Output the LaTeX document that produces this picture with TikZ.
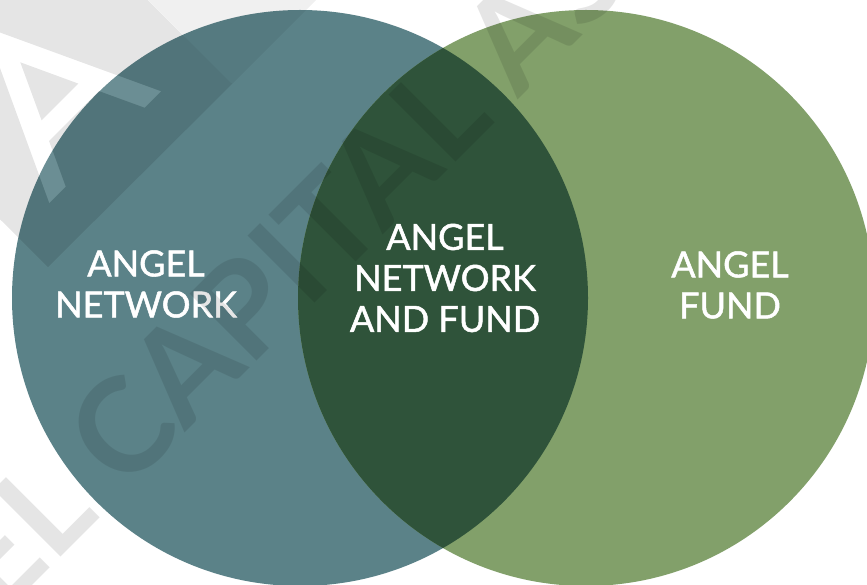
\documentclass[tikz,border=0pt]{standalone}
\usepackage{fontspec}
\setmainfont{Lato}
\newfontfamily\labelfont{Lato}[FakeBold=1.4]
\definecolor{netteal}{HTML}{5B8288}
\definecolor{fundgreen}{HTML}{82A06A}
\definecolor{bothgreen}{HTML}{2F533A}
\begin{document}
\begin{tikzpicture}[x=1pt,y=-1pt,
  lbl/.style={text=white, align=center, inner sep=0pt,
    font=\labelfont\fontsize{36}{41}\selectfont},
  shade/.style={fill=black, fill opacity=0.1},
  glint/.style={fill=white, fill opacity=0.1},
  wmtext/.style={text=black, text opacity=0.1, inner sep=0pt,
    font=\fontsize{131}{131}\selectfont\bfseries}]
\useasboundingbox (0,0) rectangle (867,585);
\clip (0,0) rectangle (867,585);
\fill[white] (0,0) rectangle (867,585);

% the two sets and their overlap
\fill[netteal] (300,298) circle (288pt);
\fill[fundgreen] (586,298) circle (288pt);
\begin{scope}
  \clip (300,298) circle (288pt);
  \fill[bothgreen] (586,298) circle (288pt);
\end{scope}

% labels
\node[lbl] (net) at (146,284) {ANGEL\\NETWORK};
\node[lbl] (both) at (445,278) {ANGEL\\NETWORK\\AND FUND};
\node[lbl] (fund) at (730,285) {ANGEL\\FUND};

% logo mark: shaded diamond with a letter A cut out
\fill[shade, even odd rule]
  (232,84) -- (48,267) -- (-136,84) -- (48,-99) -- cycle
  (-15,27) -- (161.1,91.3) -- (144.7,107.7) -- (99.1,91.1) -- (49.1,141.1)
    -- (65.7,186.7) -- (49.3,203.1) -- cycle
  (20.3,62.3) -- (78.3,83.6) -- (41.6,120.3) -- cycle;
\fill[glint, even odd rule]
  (-15,27) -- (161.1,91.3) -- (144.7,107.7) -- (99.1,91.1) -- (49.1,141.1)
    -- (65.7,186.7) -- (49.3,203.1) -- cycle
  (20.3,62.3) -- (78.3,83.6) -- (41.6,120.3) -- cycle;
\fill[black, fill opacity=0.06] (232,84) -- (120,-28) -- (344,-28) -- cycle;

% diagonal lettering
\node[wmtext, rotate=45, anchor=base west] (mark) at (124,494)
  {\llap{ANGEL\ }CAPITAL ASSOCIATION};
\end{tikzpicture}
\end{document}
